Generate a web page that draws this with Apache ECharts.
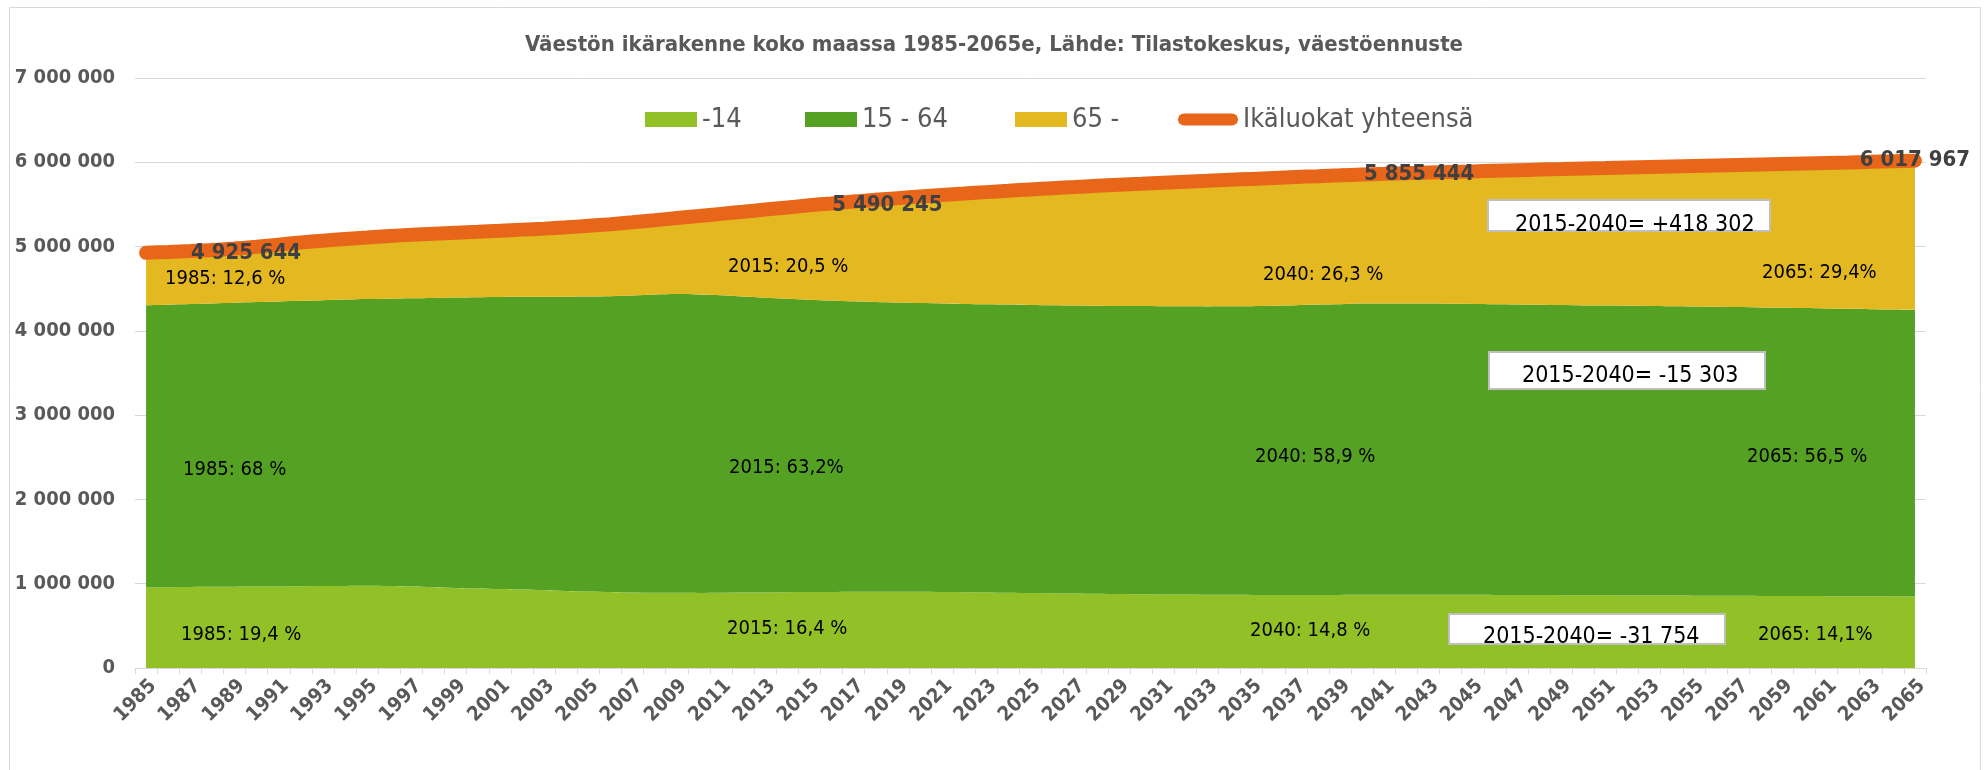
<!DOCTYPE html>
<html>
<head>
<meta charset="utf-8">
<script src="https://cdn.jsdelivr.net/npm/echarts/dist/echarts.min.js"></script>
<style>
  html, body { margin: 0; padding: 0; background: #fff; }
  #chart-container { width: 1988px; height: 770px; }
</style>
</head>
<body>
<div id="chart-container"></div>
<script>
// categories
var years = [];
for (var yr = 1985; yr <= 2065; yr++) years.push(String(yr));

// -14
var ages0to14 = [
    955575, 958000, 961000, 963000, 965000, 966000, 968000, 970000, 972000, 974000,
    975000, 972000, 966000, 958000, 950000, 942000, 936000, 930000, 922000, 915000,
    909000, 903000, 897000, 894000, 892000, 891000, 893000, 895000, 897000, 899000,
    900400, 902000, 904000, 905000, 905000, 904000, 902000, 900000, 897000, 894000,
    891000, 888000, 884000, 881000, 878000, 875000, 873000, 871000, 869000, 868000,
    867000, 866000, 866000, 866000, 867000, 868646, 868000, 869000, 869000, 869000,
    868000, 867000, 866000, 865000, 864000, 863000, 862000, 861000, 860000, 859000,
    858000, 857000, 856000, 855000, 854000, 853000, 852000, 851000, 850000, 849000,
    848533
];
// 15 - 64
var ages15to64 = [
    3349438, 3353000, 3357000, 3362000, 3368000, 3375000, 3381000, 3387000, 3392000, 3397000,
    3402000, 3410000, 3421000, 3433000, 3445000, 3457000, 3466000, 3474000, 3483000, 3491000,
    3499000, 3509000, 3523000, 3536000, 3544000, 3541000, 3529000, 3513000, 3497000, 3482000,
    3469835, 3458000, 3446000, 3437000, 3431000, 3426000, 3423000, 3420000, 3419000, 3418000,
    3417000, 3417000, 3418000, 3418000, 3418000, 3419000, 3419000, 3420000, 3421000, 3423000,
    3426000, 3432000, 3439000, 3446000, 3450000, 3454532, 3457000, 3456000, 3455000, 3453000,
    3452000, 3450000, 3448000, 3445000, 3442000, 3439000, 3438000, 3437000, 3436000, 3434000,
    3432000, 3429000, 3426000, 3423000, 3420000, 3417000, 3414000, 3411000, 3407000, 3404000,
    3400151
];
// 65 -
var ages65plus = [
    620631, 625000, 629000, 634000, 644000, 657000, 674000, 691000, 706000, 719000,
    730000, 743000, 753000, 762000, 770000, 777000, 786000, 797000, 808000, 822000,
    838000, 854000, 869000, 883000, 903000, 931000, 966000, 1005000, 1045000, 1082000,
    1120000, 1152000, 1184000, 1213000, 1239000, 1264000, 1287000, 1309000, 1330000, 1350000,
    1370000, 1388000, 1405000, 1422000, 1438000, 1452000, 1466000, 1479000, 1491000, 1501000,
    1510000, 1516000, 1520000, 1523000, 1528000, 1532000, 1538000, 1546000, 1554000, 1563000,
    1572000, 1582000, 1592000, 1603000, 1613000, 1624000, 1632000, 1640000, 1648000, 1657000,
    1666000, 1676000, 1686000, 1696000, 1706000, 1716000, 1726000, 1736000, 1748000, 1758000,
    1769282
];
// Ikäluokat yhteensä
var totals = [
    4925644, 4936000, 4947000, 4959000, 4977000, 4998000, 5023000, 5048000, 5070000, 5090000,
    5107000, 5125000, 5140000, 5153000, 5165000, 5176000, 5188000, 5201000, 5213000, 5228000,
    5246000, 5266000, 5289000, 5313000, 5339000, 5363000, 5388000, 5413000, 5439000, 5463000,
    5490245, 5512000, 5534000, 5555000, 5575000, 5594000, 5612000, 5629000, 5646000, 5662000,
    5678000, 5693000, 5707000, 5721000, 5734000, 5746000, 5758000, 5770000, 5781000, 5792000,
    5803000, 5814000, 5825000, 5835000, 5845000, 5855444, 5863000, 5871000, 5878000, 5885000,
    5892000, 5899000, 5906000, 5913000, 5919000, 5926000, 5932000, 5938000, 5944000, 5950000,
    5956000, 5962000, 5968000, 5974000, 5980000, 5986000, 5992000, 5998000, 6005000, 6011000,
    6017967
];
// years whose total gets a value label, with label x-shift
var labelledYears = ['1985', '2015', '2040', '2065'];
var labelShift = [100, 78, 57, 0];

var FONT = "'DejaVu Sans Condensed', 'Liberation Sans Narrow', 'DejaVu Sans', sans-serif";
var GREY = '#595959';

function spaced(v) {
    return String(Math.round(v)).replace(/\B(?=(\d{3})+(?!\d))/g, ' ');
}

var totalData = totals.map(function (v, i) {
    var k = labelledYears.indexOf(years[i]);
    if (k < 0) return v;
    return {
        value: v,
        label: {
            show: true,
            position: 'inside',
            offset: [labelShift[k], 0],
            formatter: function (p) { return spaced(p.value); },
            color: '#404040',
            fontFamily: FONT,
            fontSize: 22,
            fontWeight: 'bold'
        }
    };
});

// annotation texts [text, left x, centre y]
var notes = [
    ['1985: 12,6 %', 165, 279], ['1985: 68 %', 183, 470], ['1985: 19,4 %', 181, 635],
    ['2015: 20,5 %', 728, 267], ['2015: 63,2%', 729, 468], ['2015: 16,4 %', 727, 629],
    ['2040: 26,3 %', 1263, 275], ['2040: 58,9 %', 1255, 457], ['2040: 14,8 %', 1250, 631],
    ['2065: 29,4%', 1762, 273], ['2065: 56,5 %', 1747, 457], ['2065: 14,1%', 1758, 635]
];
// change boxes [text, box x, y, w, h, text x, text y]
var boxes = [
    ['2015-2040= +418 302', 1488, 200, 282, 31, 1515, 225],
    ['2015-2040= -15 303', 1489, 352, 276, 37, 1522, 376],
    ['2015-2040= -31 754', 1449, 614, 276, 30, 1483, 637]
];

var graphics = [{
    type: 'rect',
    shape: { x: 9.5, y: 7.5, width: 1971, height: 780 },
    style: { fill: 'none', stroke: '#d9d9d9', lineWidth: 1 },
    silent: true
}];
notes.forEach(function (n) {
    graphics.push({
        type: 'text', z: 100,
        style: { text: n[0], x: n[1], y: n[2], align: 'left', verticalAlign: 'middle',
                 fill: '#000', fontSize: 20, fontFamily: FONT }
    });
});
boxes.forEach(function (b) {
    graphics.push({
        type: 'rect', z: 100,
        shape: { x: b[1], y: b[2], width: b[3], height: b[4] },
        style: { fill: '#fff', stroke: '#bfbfbf', lineWidth: 2 }
    });
    graphics.push({
        type: 'text', z: 101,
        style: { text: b[0], x: b[5], y: b[6], align: 'left', verticalAlign: 'middle',
                 fill: '#000', fontSize: 23, fontFamily: FONT }
    });
});

var legendText = { color: GREY, fontSize: 27, fontFamily: FONT };
var lineIcon = 'path://M6,0 H54 A6,6 0 0 1 54,12 H6 A6,6 0 0 1 6,0 Z';

var dom = document.getElementById('chart-container');
var myChart = echarts.init(dom, null, { renderer: 'canvas' });

var option = {
    animation: false,
    backgroundColor: '#fff',
    title: {
        text: 'Väestön ikärakenne koko maassa 1985-2065e, Lähde: Tilastokeskus, väestöennuste',
        left: 'center',
        top: 29,
        textStyle: { color: GREY, fontSize: 22, fontWeight: 'bold', fontFamily: FONT }
    },
    legend: [
        { data: ['-14'], left: 640, top: 101, icon: 'rect', itemWidth: 52, itemHeight: 15, textStyle: legendText },
        { data: ['15 - 64'], left: 800, top: 101, icon: 'rect', itemWidth: 52, itemHeight: 15, textStyle: legendText },
        { data: ['65 -'], left: 1010, top: 101, icon: 'rect', itemWidth: 52, itemHeight: 15, textStyle: legendText },
        { data: ['Ikäluokat yhteensä'], left: 1173, top: 101, icon: lineIcon, itemWidth: 60, itemHeight: 12, textStyle: legendText }
    ],
    grid: { left: 135, right: 62, top: 78, bottom: 102, containLabel: false },
    xAxis: {
        type: 'category',
        data: years,
        boundaryGap: true,
        axisLine: { lineStyle: { color: '#d9d9d9', width: 1 } },
        axisTick: { show: true, interval: 0, length: 6, lineStyle: { color: '#d9d9d9' } },
        axisLabel: {
            interval: 1,
            rotate: 45,
            margin: 8,
            verticalAlign: 'top',
            color: GREY,
            fontSize: 20,
            fontWeight: 'bold',
            fontFamily: FONT
        }
    },
    yAxis: {
        type: 'value',
        min: 0,
        max: 7000000,
        interval: 1000000,
        axisLine: { show: false },
        axisTick: { show: false },
        splitLine: { lineStyle: { color: '#d9d9d9', width: 1 } },
        axisLabel: {
            margin: 20,
            color: GREY,
            fontSize: 20,
            fontWeight: 'bold',
            fontFamily: FONT,
            formatter: spaced
        }
    },
    series: [
        {
            name: '-14', type: 'line', stack: 'pop', data: ages0to14,
            smooth: 0.3, symbol: 'none', lineStyle: { width: 0 },
            itemStyle: { color: '#91c126' }, areaStyle: { color: '#91c126', opacity: 1 }
        },
        {
            name: '15 - 64', type: 'line', stack: 'pop', data: ages15to64,
            smooth: 0.3, symbol: 'none', lineStyle: { width: 0 },
            itemStyle: { color: '#55a123' }, areaStyle: { color: '#55a123', opacity: 1 }
        },
        {
            name: '65 -', type: 'line', stack: 'pop', data: ages65plus,
            smooth: 0.3, symbol: 'none', lineStyle: { width: 0 },
            itemStyle: { color: '#e4b820' }, areaStyle: { color: '#e4b820', opacity: 1 }
        },
        {
            name: 'Ikäluokat yhteensä', type: 'line', data: totalData,
            smooth: 0.3, symbol: 'circle', symbolSize: 2, showSymbol: true,
            itemStyle: { color: '#e8661a' },
            lineStyle: { color: '#e8661a', width: 14, cap: 'round' },
            z: 5
        }
    ],
    graphic: graphics
};

if (option && typeof option === 'object') {
    myChart.setOption(option);
}
</script>
</body>
</html>
